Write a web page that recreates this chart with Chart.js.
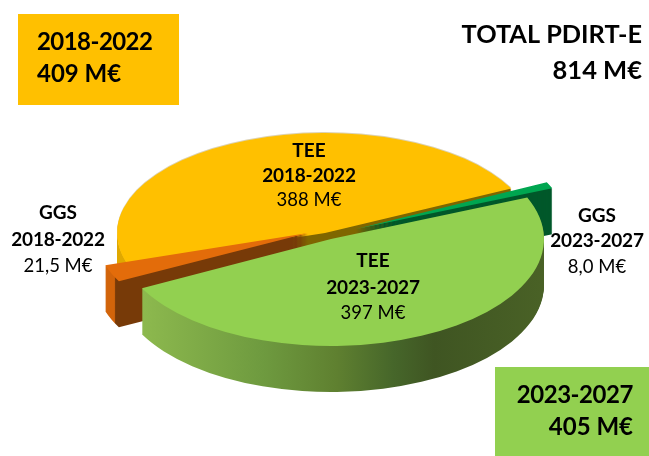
<!DOCTYPE html>
<html><head><meta charset="utf-8">
<style>html,body{margin:0;padding:0;background:#fff}canvas{display:block}</style>
<script src="https://cdn.jsdelivr.net/npm/chart.js@4"></script>
</head><body>
<canvas id="c" width="649" height="456"></canvas>
<script>
const categories = ["TEE 2018-2022", "GGS 2023-2027", "TEE 2023-2027", "GGS 2018-2022"];
const seriesValues = [388, 8, 397, 21.5];
const valueLabels = ["388 M€", "8,0 M€", "397 M€", "21,5 M€"];
const topColors = ["#FFC000", "#00A650", "#92D050", "#E36C0A"];

const FONT = "Lato, 'Open Sans', sans-serif";
// Where each exploded slice sits on the page (ellipse centre) and draw order, back to front
const placement = [
  {cx: 325, cy: 233, sx: 208 / 213, sy: 100 / 213},
  {cx: 356, cy: 229, sx: 1, sy: 105 / 213},
  {cx: 331, cy: 239, sx: 1, sy: 107 / 213},
  {cx: 308, cy: 233, sx: 1, sy: 105 / 213}
];
const DEPTH = 46;
const drawOrder = [0, 1, 3, 2];

function sideFill(ctx, i, arc) {
  const p = placement[i];
  const lg = (a, b, stops) => {
    const gr = ctx.createLinearGradient(arc.x + (a - p.cx) / p.sx, 0, arc.x + (b - p.cx) / p.sx, 0);
    stops.forEach(s => gr.addColorStop(s[0], s[1]));
    return gr;
  };
  if (i === 0) return lg(100, 140, [[0, "#E0A800"], [0.7, "#E0A800"], [0.72, "#7F6600"], [1, "#7F6600"]]);
  if (i === 1) return "#00582A";
  if (i === 3) return lg(100, 130, [[0, "#D2640A"], [0.48, "#D2640A"], [0.52, "#773A08"], [1, "#773A08"]]);
  return lg(142, 548, [[0, "#8DB94E"], [0.3, "#6E9A3F"], [0.48, "#5F8030"], [0.62, "#46662A"], [0.72, "#3F5522"], [1, "#4A6226"]]);
}

function drawArcAt(ctx, arc, p, d, fill) {
  const orig = arc.options;
  ctx.save();
  ctx.translate(p.cx, p.cy + d);
  ctx.scale(p.sx, p.sy);
  ctx.translate(-arc.x, -arc.y);
  arc.options = Object.assign({}, orig, {backgroundColor: fill, borderColor: fill, borderWidth: 0, offset: 0});
  arc.draw(ctx);
  arc.options = orig;
  ctx.restore();
}

const pie3d = {
  id: "pie3d",
  beforeDatasetsDraw(chart) {
    const ctx = chart.ctx, arcs = chart.getDatasetMeta(0).data;
    drawOrder.forEach(i => {
      const arc = arcs[i], p = placement[i];
      for (let d = DEPTH; d >= 1; d--) drawArcAt(ctx, arc, p, d, sideFill(ctx, i, arc));
      if (i === 0) drawArcAt(ctx, arc, p, -1, "#DCD2B4");
      drawArcAt(ctx, arc, p, 0, topColors[i]);
    });
    return false;
  }
};

const boxes = [
  {x: 18, y: 14, w: 161, h: 91, color: "#FFC000"},
  {x: 495, y: 367, w: 154, h: 89, color: "#92D050"}
];
// text, x, baseline y, size, bold, align, letter spacing
const texts = [
  ["TOTAL PDIRT-E", 642, 43, 25.3, true, "right", 0],
  ["814 M€", 642, 79, 25.5, true, "right", 0],
  ["2018-2022", 37, 50, 24, true, "left", -0.55],
  ["409 M€", 37, 82, 24, true, "left", 0],
  ["2023-2027", 633, 403, 24, true, "right", -0.45],
  ["405 M€", 633, 435, 24, true, "right", 0],
  ["TEE", 309, 157, 19, true, "center", 0],
  ["2018-2022", 309, 182, 19, true, "center", -0.2],
  [valueLabels[0], 309, 206, 18.5, false, "center", 0],
  ["TEE", 373, 267, 19, true, "center", 0],
  ["2023-2027", 373, 294, 19, true, "center", -0.2],
  [valueLabels[2], 373, 319, 18.5, false, "center", 0],
  ["GGS", 58, 219, 19, true, "center", 0],
  ["2018-2022", 58, 246, 19, true, "center", -0.2],
  [valueLabels[3], 58, 272, 18.5, false, "center", 0],
  ["GGS", 597, 222, 19, true, "center", 0],
  ["2023-2027", 597, 247, 19, true, "center", -0.2],
  [valueLabels[1], 597, 273, 18.5, false, "center", 0]
];
const annotations = {
  id: "annotations",
  afterDraw(chart) {
    const ctx = chart.ctx;
    ctx.save();
    boxes.forEach(b => { ctx.fillStyle = b.color; ctx.fillRect(b.x, b.y, b.w, b.h); });
    ctx.fillStyle = "#000";
    ctx.textBaseline = "alphabetic";
    texts.forEach(t => {
      ctx.font = (t[4] ? "bold " : "") + t[3] + "px " + FONT;
      ctx.letterSpacing = t[6] + "px";
      ctx.textAlign = t[5];
      ctx.fillText(t[0], t[1], t[2]);
    });
    ctx.restore();
  }
};

new Chart(document.getElementById("c"), {
  type: "pie",
  data: {labels: categories, datasets: [{data: seriesValues, backgroundColor: topColors, borderWidth: 0}]},
  options: {
    responsive: false,
    animation: false,
    rotation: -107.9,
    radius: 213,
    layout: {padding: 0},
    plugins: {legend: {display: false}, tooltip: {enabled: false}, title: {display: false}}
  },
  plugins: [pie3d, annotations]
});
</script>
</body></html>
